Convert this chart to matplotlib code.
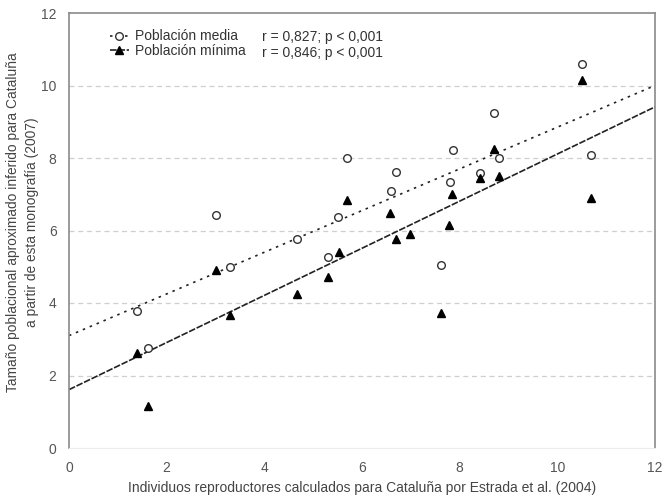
import numpy as np
import matplotlib
matplotlib.use("Agg")
import matplotlib.pyplot as plt
from matplotlib.lines import Line2D

plt.rcParams['font.family'] = ['Liberation Sans', 'DejaVu Sans']

# Población media (open circles)
media_x = [1.40, 1.62, 3.00, 3.29, 4.67, 5.30, 5.51, 5.69, 6.60, 6.70,
           7.62, 7.80, 7.86, 8.42, 8.70, 8.80, 10.50, 10.69]
media_y = [3.77, 2.75, 6.44, 5.00, 5.76, 5.27, 6.37, 7.99, 7.08, 7.62,
           5.05, 7.35, 8.22, 7.60, 9.23, 8.00, 10.58, 8.08]

# Población mínima (filled triangles)
minima_x = [1.40, 1.62, 3.00, 3.29, 4.67, 5.30, 5.52, 5.69, 6.58, 6.69,
            6.99, 7.61, 7.85, 7.78, 8.42, 8.70, 8.80, 10.50, 10.69]
minima_y = [2.61, 1.17, 4.90, 3.68, 4.25, 4.71, 5.42, 6.85, 6.48, 5.76,
            5.89, 3.72, 7.00, 6.15, 7.45, 8.26, 7.50, 10.14, 6.89]

# Regression lines (intercept, slope)
media_fit = (3.10, 0.575)
minima_fit = (1.61, 0.650)

labels = ["Población media", "Población mínima"]
stats = ["r = 0,827; p < 0,001", "r = 0,846; p < 0,001"]
xticks = [0, 2, 4, 6, 8, 10, 12]
yticks = [0, 2, 4, 6, 8, 10, 12]

FS = 10
fig = plt.figure(figsize=(6.62, 4.98), dpi=100)
ax = fig.add_axes([69/662, 1-448/498, (655-69)/662, (448-13)/498])

xx = np.array([0, 12])
ax.plot(xx, media_fit[0] + media_fit[1]*xx, color='#222222', lw=1.2,
        linestyle=(0, (1.5, 3)), zorder=2)
ax.plot(xx, minima_fit[0] + minima_fit[1]*xx, color='#222222', lw=1.2,
        linestyle=(0, (4, 1)), zorder=2)

ax.plot(media_x, media_y, linestyle='none', marker='o', markersize=5.5,
        markerfacecolor='white', markeredgecolor='#333333', markeredgewidth=1.0, zorder=3)
ax.plot(minima_x, minima_y, linestyle='none', marker='^', markersize=6,
        markerfacecolor='black', markeredgecolor='black', zorder=4)

ax.set_xlim(0, 12)
ax.set_ylim(0, 12)
ax.set_xticks(xticks)
ax.set_yticks(yticks)
for y in yticks[1:-1]:
    ax.axhline(y, color='#cfcfcf', lw=0.9, linestyle=(0, (4, 3)), zorder=1)

for s in ['left', 'right', 'top']:
    ax.spines[s].set_color('#8a8a8a')
    ax.spines[s].set_linewidth(1.2)
ax.spines['bottom'].set_color('#ececec')
ax.tick_params(axis='both', length=0, labelsize=FS, labelcolor='#555555')
ax.tick_params(axis='x', pad=9)
ax.tick_params(axis='y', pad=9)

ax.set_xlabel("Individuos reproductores calculados para Cataluña por Estrada et al. (2004)",
              fontsize=FS, color='#444444', labelpad=5)
ax.set_ylabel("Tamaño poblacional aproximado inferido para Cataluña\na partir de esta monografía (2007)",
              fontsize=9.9, color='#444444', linespacing=1.45)
ax.yaxis.set_label_coords(-0.052, 0.52)

handles = [
    Line2D([], [], color='#222222', lw=1.2, linestyle=(0, (1.5, 3)), marker='o',
           markersize=5.5, markerfacecolor='white', markeredgecolor='#333333'),
    Line2D([], [], color='#222222', lw=1.2, linestyle=(0, (4, 1)), marker='^',
           markersize=6, markerfacecolor='black', markeredgecolor='black'),
]
leg = ax.legend(handles, labels, loc='upper left', bbox_to_anchor=(0.06, 0.975),
                frameon=False, fontsize=FS, handlelength=1.4, handletextpad=0.4,
                labelspacing=0.05, borderaxespad=0)
for t in leg.get_texts():
    t.set_color('#333333')
ax.text(0.33, 0.945, stats[0], transform=ax.transAxes, fontsize=FS, color='#333333', va='center')
ax.text(0.33, 0.908, stats[1], transform=ax.transAxes, fontsize=FS, color='#333333', va='center')

fig.savefig("out.png", dpi=100)
